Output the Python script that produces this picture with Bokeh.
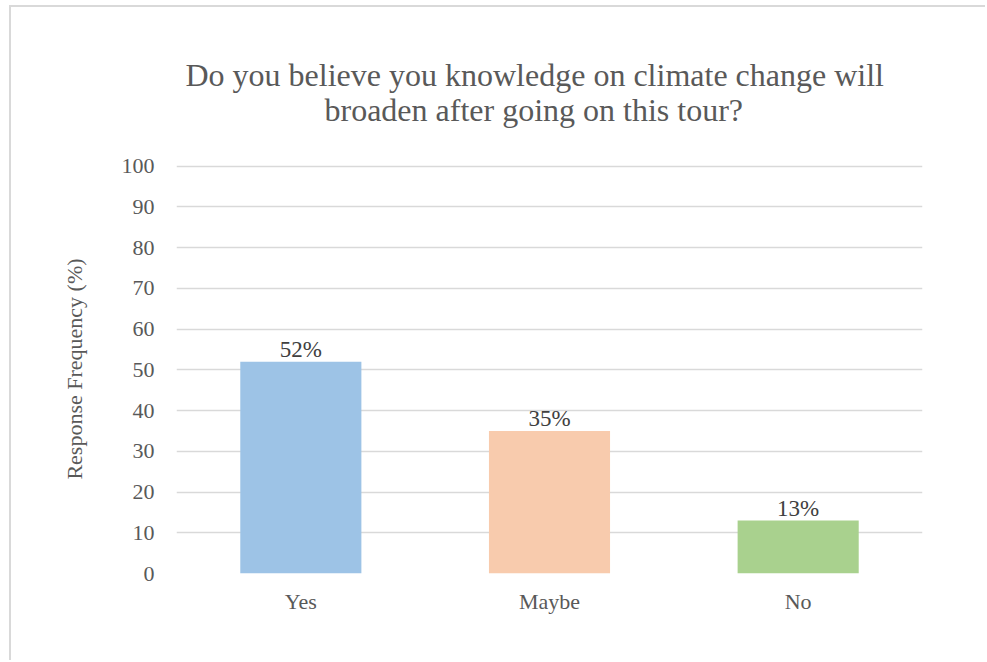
from bokeh.plotting import figure
from bokeh.models import ColumnDataSource, FixedTicker, Range1d, Title
from bokeh.core.properties import value
from bokeh.embed import file_html
from bokeh.resources import INLINE

# ---- data ----
categories = ["Yes", "Maybe", "No"]
responses = [52, 35, 13]
value_labels = ["52%", "35%", "13%"]
bar_colors = ["#9DC3E6", "#F8CBAD", "#A9D18E"]
y_ticks = [0, 10, 20, 30, 40, 50, 60, 70, 80, 90, 100]
title_lines = ["Do you believe you knowledge on climate change will",
               "broaden after going on this tour?"]
y_title = "Response Frequency (%)"

FONT = "Liberation Serif"
TXT = "#595959"
GRID = "#D9D9D9"

src = ColumnDataSource(dict(cat=categories, val=responses, lab=value_labels, color=bar_colors))

p = figure(x_range=categories, y_range=Range1d(0, 100.4),
           width=976, height=655, output_backend="svg", toolbar_location=None,
           min_border_left=165, min_border_right=65, min_border_top=157, min_border_bottom=89,
           outline_line_color=None, background_fill_color="white", border_fill_color="white")
p.styles = {"margin-left": "9px", "margin-top": "5px",
            "border-left": "2px solid #D9D9D9", "border-top": "2px solid #D9D9D9"}

p.x_range.range_padding = 0
p.x_range.factor_padding = 0

p.vbar(x="cat", top="val", width=0.487, source=src, fill_color="color", line_color=None)
p.text(x="cat", y="val", text="lab", source=src, text_align="center", text_baseline="bottom",
       text_font=value(FONT), text_font_size="23px", text_color="#404040")

# axes
p.yaxis.ticker = FixedTicker(ticks=y_ticks)
for ax in (p.xaxis, p.yaxis):
    ax.axis_line_color = None
    ax.major_tick_line_color = None
    ax.minor_tick_line_color = None
    ax.major_tick_out = 0
    ax.major_tick_in = 0
    ax.major_label_text_font = FONT
    ax.major_label_text_font_size = "22px"
    ax.major_label_text_color = TXT
p.yaxis.major_label_standoff = 22
p.xaxis.major_label_standoff = 15

p.yaxis.axis_label = y_title
p.yaxis.axis_label_text_font = FONT
p.yaxis.axis_label_text_font_size = "22px"
p.yaxis.axis_label_text_font_style = "normal"
p.yaxis.axis_label_text_color = TXT
p.yaxis.axis_label_standoff = 32

p.xgrid.grid_line_color = None
p.ygrid.grid_line_color = GRID
p.ygrid.grid_line_width = 1.6

# title: two lines (second line added first = closest to plot)
t2 = Title(text=title_lines[1], align="left", offset=148, text_font=FONT, text_font_size="32px",
           text_font_style="normal", text_color=TXT, standoff=74)
t1 = Title(text=title_lines[0], align="left", offset=9, text_font=FONT, text_font_size="32px",
           text_font_style="normal", text_color=TXT, standoff=-80)
p.add_layout(t2, "above")
p.add_layout(t1, "above")

open("out.html", "w").write(file_html(p, INLINE))
